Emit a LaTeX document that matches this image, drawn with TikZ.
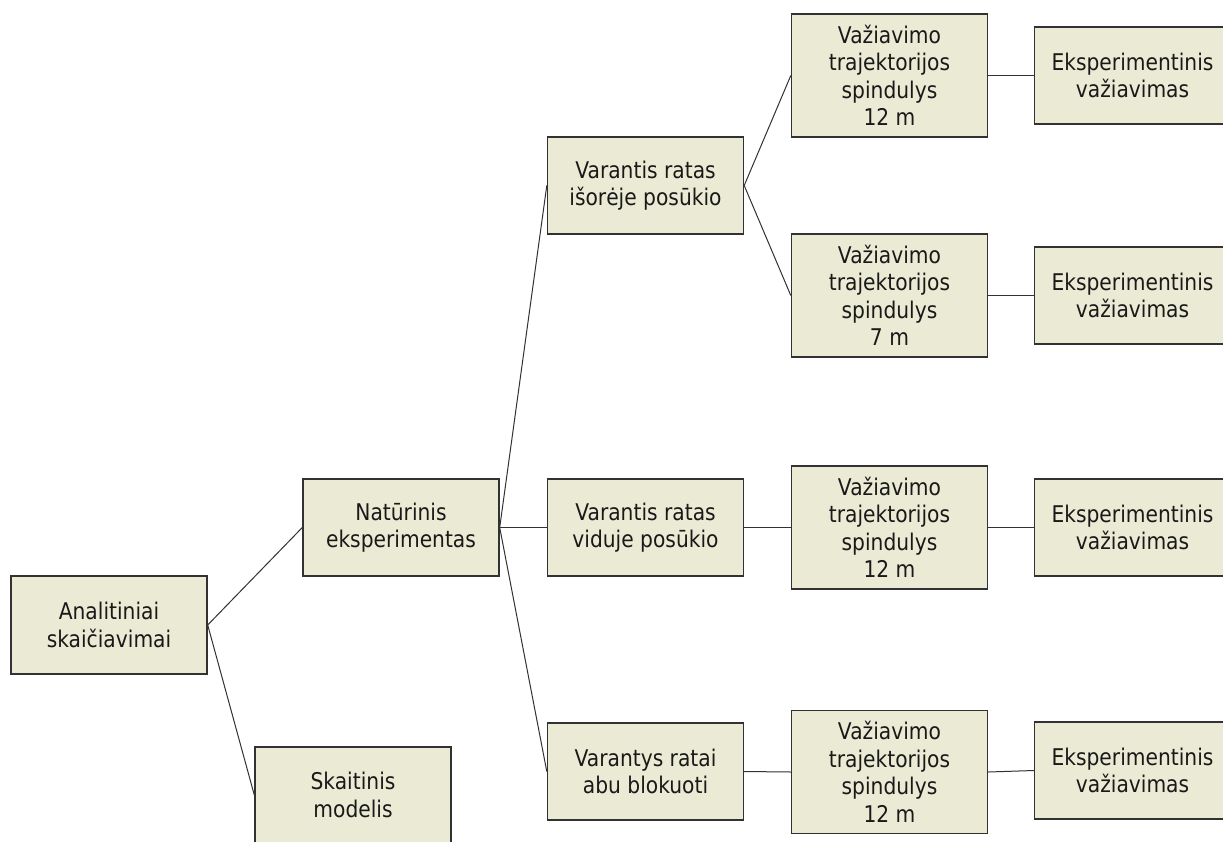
\documentclass[tikz,border=0pt]{standalone}
\usepackage{fontspec}
\setmainfont{DejaVu Sans}[FakeStretch=0.88]
\definecolor{boxfill}{RGB}{235,235,213}
\definecolor{boxline}{RGB}{50,50,50}
\definecolor{txt}{RGB}{25,25,25}
\begin{document}
\begin{tikzpicture}[x=1pt,y=-1pt,
  box/.style={draw=boxline, fill=boxfill, line width=1.4pt, text=txt, align=center,
    inner sep=0pt, minimum width=196pt, minimum height=97pt,
    font=\fontsize{23}{27.5}\selectfont},
  tall/.style={box, minimum height=123pt},
  link/.style={draw=boxline, line width=1pt}]
\useasboundingbox (0,0) rectangle (1223,841);
\clip (0,0) rectangle (1223,841);
\fill[white] (0,0) rectangle (1223,841);

\node[box, minimum height=98pt] (A) at (109,625) {Analitiniai\\skaičiavimai};
\node[box] (N) at (401,527.5) {Natūrinis\\eksperimentas};
\node[box, minimum height=96pt] (S) at (353,795) {Skaitinis\\modelis};

\node[box] (V1) at (645.5,185.5) {Varantis ratas\\išorėje posūkio};
\node[box] (V2) at (645.5,527.5) {Varantis ratas\\viduje posūkio};
\node[box] (V3) at (645.5,771.5) {Varantys ratai\\abu blokuoti};

\node[tall] (T1) at (889.5,75.5) {Važiavimo\\trajektorijos\\spindulys\\12 m};
\node[tall] (T2) at (889.5,295.5) {Važiavimo\\trajektorijos\\spindulys\\7 m};
\node[tall] (T3) at (889.5,527.5) {Važiavimo\\trajektorijos\\spindulys\\12 m};
\node[tall] (T4) at (889.5,772) {Važiavimo\\trajektorijos\\spindulys\\12 m};

\node[box] (E1) at (1132.5,75.5) {Eksperimentinis\\važiavimas};
\node[box] (E2) at (1132.5,295.5) {Eksperimentinis\\važiavimas};
\node[box] (E3) at (1132.5,527.5) {Eksperimentinis\\važiavimas};
\node[box] (E4) at (1132.5,770.5) {Eksperimentinis\\važiavimas};

\draw[link] (A.east) -- (N.west);
\draw[link] (A.east) -- (S.west);
\draw[link] (N.east) -- (V1.west);
\draw[link] (N.east) -- (V2.west);
\draw[link] (N.east) -- (V3.west);
\draw[link] (V1.east) -- (T1.west);
\draw[link] (V1.east) -- (T2.west);
\draw[link] (V2.east) -- (T3.west);
\draw[link] (V3.east) -- (T4.west);
\draw[link] (T1.east) -- (E1.west);
\draw[link] (T2.east) -- (E2.west);
\draw[link] (T3.east) -- (E3.west);
\draw[link] (T4.east) -- (E4.west);
\end{tikzpicture}
\end{document}
